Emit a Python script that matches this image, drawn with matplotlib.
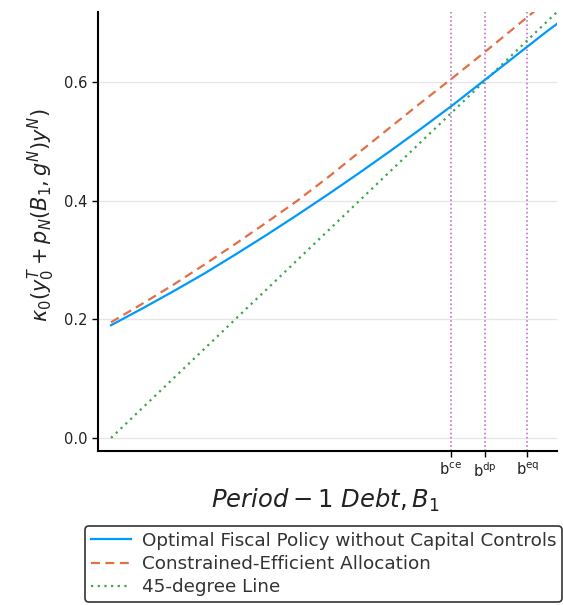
import matplotlib
matplotlib.use("Agg")
import matplotlib.pyplot as plt
import numpy as np

# Data
debt = [0.0, 0.05, 0.10, 0.15, 0.20, 0.25, 0.30, 0.35, 0.40, 0.45, 0.50, 0.55, 0.60, 0.65, 0.70, 0.718]
optimal_fiscal = [0.190, 0.218, 0.247, 0.277, 0.309, 0.342, 0.376, 0.411, 0.447, 0.484, 0.522, 0.561, 0.602, 0.643, 0.684, 0.698]
constrained_eff = [0.195, 0.226, 0.258, 0.292, 0.327, 0.363, 0.400, 0.440, 0.482, 0.524, 0.566, 0.607, 0.649, 0.692, 0.735, 0.750]
line45 = [0.0, 0.718]
line45_x = [0.0, 0.718]

vlines = [0.547, 0.602, 0.670]
vline_labels = [r"$\mathregular{b^{ce}}$", r"$\mathregular{b^{dp}}$", r"$\mathregular{b^{eq}}$"]
yticks = [0.0, 0.2, 0.4, 0.6]
ytick_labels = ["0.0", "0.2", "0.4", "0.6"]

fig = plt.figure(figsize=(5.63, 6.05), dpi=100)
ax = fig.add_axes([98/563, 1-451/605, (557-98)/563, (451-12)/605])

for v in vlines:
    ax.axvline(v, color="#C271D2", linestyle=(0, (1, 1.5)), linewidth=1.2, zorder=1)

l1, = ax.plot(debt, optimal_fiscal, color="#009AFA", linewidth=1.6, label="Optimal Fiscal Policy without Capital Controls", zorder=3)
l2, = ax.plot(debt, constrained_eff, color="#E26F46", linewidth=1.6, linestyle=(0, (4, 2.5)), label="Constrained-Efficient Allocation", zorder=3)
l3, = ax.plot(line45_x, line45, color="#3EA44E", linewidth=1.6, linestyle=(0, (1, 2)), label="45-degree Line", zorder=2)

ax.set_xlim(-0.021, 0.718)
ax.set_ylim(-0.022, 0.718)
ax.set_yticks(yticks)
ax.set_yticklabels(ytick_labels, fontsize=10.5, color="#222222")
ax.set_xticks(vlines)
ax.set_xticklabels(vline_labels, fontsize=10.5, color="#222222")
ax.yaxis.grid(True, color="#e6e6e6", linewidth=0.9)
ax.set_axisbelow(True)
ax.spines["top"].set_visible(False)
ax.spines["right"].set_visible(False)
ax.spines["left"].set_linewidth(1.5)
ax.spines["bottom"].set_linewidth(1.5)
ax.tick_params(direction="out", length=4, width=1, colors="#000000", labelcolor="#222222")

ax.set_xlabel(r"$Period - 1\ Debt, B_1$", fontsize=17.5, color="#222222")
ax.xaxis.set_label_coords((325-98)/459, -(500-451)/439)
ax.xaxis.label.set_verticalalignment("center")
ax.set_ylabel(r"$\kappa_0(y_0^T + p_N(B_1, g^N)y^N)$", fontsize=15, color="#222222")
ax.yaxis.set_label_coords(-(98-41)/459, (451-215)/439)
ax.yaxis.label.set_verticalalignment("center")

leg = fig.legend(handles=[l1, l2, l3], loc="upper left", bbox_to_anchor=(85/563, 1-526/605),
                 borderaxespad=0, fontsize=13.2, frameon=True, fancybox=True,
                 handlelength=2.2, handletextpad=0.6, borderpad=0.3,
                 labelspacing=0.3, edgecolor="#000000")
leg.get_frame().set_linewidth(1.2)
for t in leg.get_texts():
    t.set_color("#333333")

fig.savefig("out.png", dpi=100)
